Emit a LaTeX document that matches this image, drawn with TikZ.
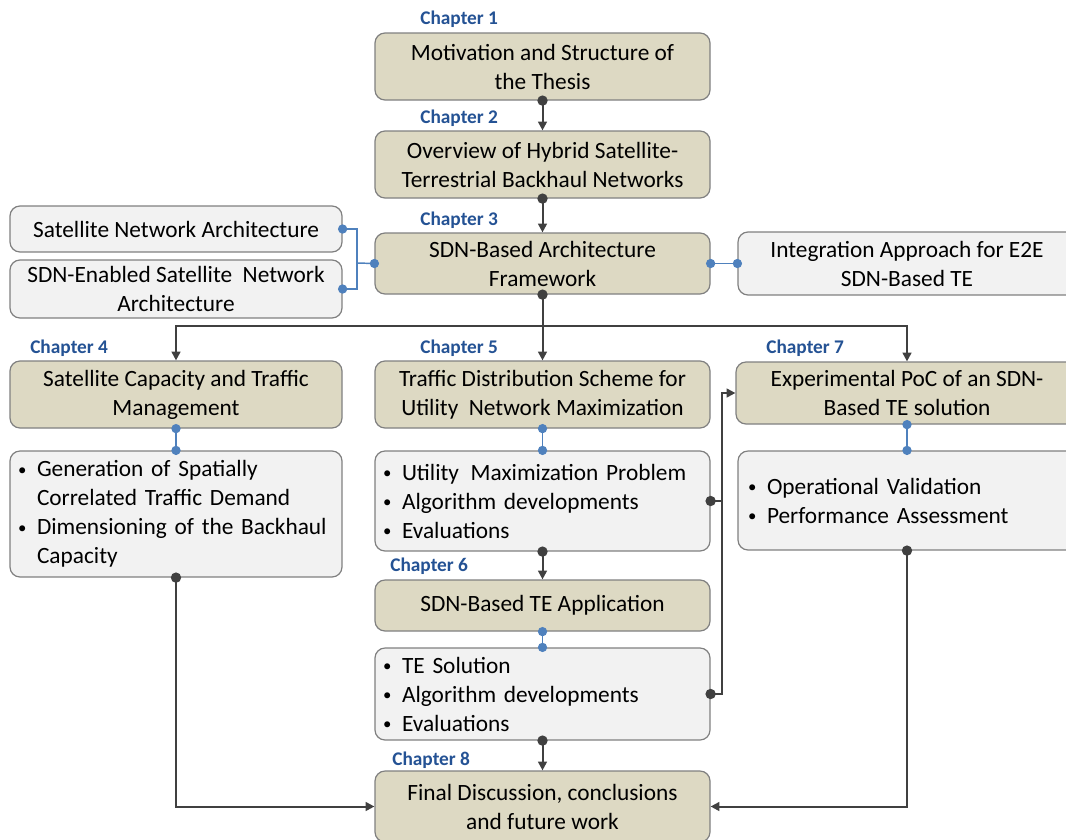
\documentclass[tikz,border=0pt]{standalone}
\usepackage{fontspec}
\setmainfont{Carlito}
\usetikzlibrary{arrows.meta}

\definecolor{tanfill}{RGB}{221,217,195}
\definecolor{lightfill}{RGB}{242,242,242}
\definecolor{boxline}{RGB}{128,128,128}
\definecolor{linkblue}{RGB}{79,129,189}
\definecolor{darkline}{RGB}{64,64,64}
\definecolor{chapblue}{RGB}{36,82,148}

% bullet with fixed indent, and the matching indent for wrapped lines
\newcommand{\lbul}{\makebox[14.25pt][l]{\raisebox{1.2pt}{\scalebox{0.72}{\textbullet}}}}
\newcommand{\lind}{\hspace*{14.25pt}}

\begin{document}
\begin{tikzpicture}[x=0.75pt,y=-0.75pt,
  box/.style={draw=boxline, line width=0.9pt, rounded corners=7.5pt, inner sep=0pt,
              font=\fontsize{17.5}{21.75}\selectfont, text=black},
  tanbox/.style={box, fill=tanfill, align=center},
  greybox/.style={box, fill=lightfill, align=center},
  listbox/.style={box, fill=lightfill, align=left},
  chap/.style={anchor=west, inner sep=0pt, text=chapblue, font=\fontsize{14.5}{16}\selectfont\bfseries},
  flow/.style={draw=darkline, line width=1.5pt},
  arr/.style={flow, -{Triangle[length=6.5pt,width=6.5pt]}},
  link/.style={draw=linkblue, line width=1.1pt},
]
\useasboundingbox (0,0) rectangle (1066,839);

% ---- chapter boxes ----
\node[tanbox, minimum width=251.25pt, minimum height=50.25pt] (c1) at (542.5,66.5)
  {Motivation and Structure of\\the Thesis};
\node[tanbox, minimum width=251.25pt, minimum height=50.25pt] (c2) at (542.5,164.5)
  {Overview of Hybrid Satellite-\\Terrestrial Backhaul Networks};
\node[tanbox, minimum width=251.25pt, minimum height=45.75pt] (c3) at (542.5,263.5)
  {SDN-Based Architecture\\Framework};
\node[tanbox, minimum width=249pt, minimum height=50.25pt] (c4) at (176,394.5)
  {Satellite Capacity and Traffic\\Management};
\node[tanbox, minimum width=251.25pt, minimum height=50.25pt] (c5) at (542.5,394.5)
  {Traffic Distribution Scheme for\\Utility \ Network Maximization};
\node[tanbox, minimum width=256.5pt, minimum height=46.5pt] (c7) at (907,393)
  {Experimental PoC of an SDN-\\Based TE solution};
\node[tanbox, minimum width=251.25pt, minimum height=38.25pt] (c6) at (542.5,605.5)
  {SDN-Based TE Application};
\node[tanbox, minimum width=251.25pt, minimum height=53.25pt] (c8) at (542.5,806.5)
  {Final Discussion, conclusions\\and future work};

% ---- side boxes around chapter 3 ----
\node[greybox, minimum width=249pt, minimum height=34.5pt] (satnet) at (176,229)
  {Satellite Network Architecture};
\node[greybox, minimum width=249pt, minimum height=43.5pt] (sdnsat) at (176,289)
  {SDN-Enabled Satellite \ Network\\Architecture};
\node[greybox, minimum width=253.5pt, minimum height=47.25pt] (integ) at (907,263.5)
  {Integration Approach for E2E\\SDN-Based TE};

% ---- content lists ----
\node[listbox, inner xsep=6pt, text width=237pt, minimum height=94.5pt] (c4d) at (176,514)
  {\lbul Generation of Spatially\\\lind Correlated Traffic Demand\\\lbul Dimensioning of the Backhaul\\\lind Capacity};
\node[listbox, inner xsep=6pt, text width=239.25pt, minimum height=75pt] (c5d) at (542.5,501)
  {\lbul Utility \,Maximization Problem\\\lbul Algorithm developments\\\lbul Evaluations};
\node[listbox, inner xsep=6pt, text width=239.25pt, minimum height=69pt] (c6d) at (542.5,694)
  {\lbul TE Solution\\\lbul Algorithm developments\\\lbul Evaluations};
\node[listbox, inner xsep=7.5pt, text width=238.5pt, minimum height=74.25pt] (c7d) at (907,500.5)
  {\lbul Operational Validation\\\lbul Performance Assessment};

% ---- chapter labels ----
\node[chap] (ch1) at (420,19) {Chapter 1};
\node[chap] (ch2) at (420,118) {Chapter 2};
\node[chap] (ch3) at (420,220) {Chapter 3};
\node[chap] (ch4) at (30,348) {Chapter 4};
\node[chap] (ch5) at (420,348) {Chapter 5};
\node[chap] (ch6) at (390,566) {Chapter 6};
\node[chap] (ch7) at (766,348) {Chapter 7};
\node[chap] (ch8) at (392,760) {Chapter 8};

% ---- main flow ----
\coordinate (bar) at (0,326);
\coordinate (rv) at (722,0);

\draw[arr] (c1.south) -- (c2.north);
\draw[arr] (c2.south) -- (c3.north);
\draw[arr] (c3.south) -- (c5.north);
\draw[arr] (c3.south) -- (c3.south |- bar) -| (c4.north);
\draw[arr] (c3.south |- bar) -| (c7.north);
\draw[arr] (c5d.south) -- (c6.north);
\draw[arr] (c6d.south) -- (c8.north);
\draw[arr] (c4d.south) |- (c8.west);
\draw[arr] (c7d.south) |- (c8.east);
\draw[arr] (c5d.east) -- (c5d.east -| rv) |- (c7.west);
\draw[flow] (c6d.east) -| (c5d.east -| rv);

\foreach \p in {c1.south, c2.south, c3.south, c5d.south, c6d.south, c4d.south, c7d.south, c5d.east, c6d.east}
  \fill[darkline] (\p) circle[radius=3.9pt];

% ---- blue associations ----
\coordinate (br) at (357,263);
\draw[link] (satnet.east) -| (br) |- (sdnsat.east);
\draw[link] (br) -- (c3.west);
\draw[link] (c3.east) -- (integ.west);
\draw[link] (c4.south) -- (c4d.north);
\draw[link] (c5.south) -- (c5d.north);
\draw[link] (c7.south) -- (c7d.north);
\draw[link] (c6.south) -- (c6d.north);

\foreach \p in {satnet.east, sdnsat.east, c3.west, c3.east, integ.west,
                c4.south, c4d.north, c5.south, c5d.north, c7.south, c7d.north, c6.south, c6d.north}
  \fill[linkblue] (\p) circle[radius=3.5pt];
\end{tikzpicture}
\end{document}
